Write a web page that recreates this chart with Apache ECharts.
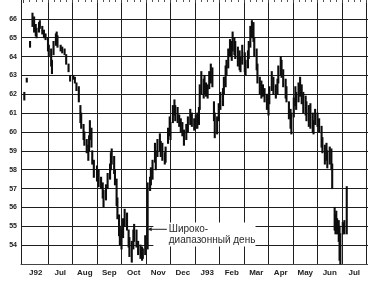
<!DOCTYPE html>
<html><head><meta charset="utf-8">
<script src="https://cdn.jsdelivr.net/npm/echarts/dist/echarts.min.js"></script>
<style>html,body{margin:0;padding:0;background:#fff}#c{width:368px;height:283px}</style>
</head><body><div id="c"></div>
<script>
const monthLabels = ['J92','Jul','Aug','Sep','Oct','Nov','Dec','J93','Feb','Mar','Apr','May','Jun','Jul'];
const priceTicks = [54,55,56,57,58,59,60,61,62,63,64,65,66];
const days = [
'1992-06-02','1992-06-05','1992-06-09','1992-06-12','1992-06-14','1992-06-16','1992-06-17','1992-06-20','1992-06-21','1992-06-24','1992-06-26','1992-06-28',
'1992-07-01','1992-07-02','1992-07-05','1992-07-06','1992-07-08','1992-07-11','1992-07-12','1992-07-13','1992-07-17','1992-07-19','1992-07-22','1992-07-24','1992-07-27','1992-07-29',
'1992-08-02','1992-08-04','1992-08-06','1992-08-09','1992-08-11','1992-08-12','1992-08-15','1992-08-16','1992-08-19','1992-08-21','1992-08-22','1992-08-23','1992-08-25','1992-08-26','1992-08-28',
'1992-09-01','1992-09-03','1992-09-06','1992-09-08','1992-09-09','1992-09-12','1992-09-14','1992-09-17','1992-09-18','1992-09-19','1992-09-22','1992-09-23','1992-09-25','1992-09-26','1992-09-28','1992-09-29',
'1992-10-01','1992-10-03','1992-10-05','1992-10-08','1992-10-10','1992-10-11','1992-10-14','1992-10-16','1992-10-17','1992-10-20','1992-10-22','1992-10-25','1992-10-27','1992-10-28','1992-10-31',
'1992-11-03','1992-11-06','1992-11-07','1992-11-09','1992-11-12','1992-11-13','1992-11-15','1992-11-18','1992-11-19','1992-11-21','1992-11-24','1992-11-25','1992-11-28','1992-11-30',
'1992-12-01','1992-12-04','1992-12-06','1992-12-07','1992-12-10','1992-12-12','1992-12-14','1992-12-16','1992-12-18','1992-12-21','1992-12-23','1992-12-26','1992-12-28','1992-12-31',
'1993-01-02','1993-01-04','1993-01-06','1993-01-07','1993-01-09','1993-01-12','1993-01-13','1993-01-15','1993-01-17','1993-01-19','1993-01-21','1993-01-23','1993-01-25','1993-01-26','1993-01-29','1993-01-31',
'1993-02-02','1993-02-05','1993-02-06','1993-02-08','1993-02-09','1993-02-11','1993-02-13','1993-02-15','1993-02-16','1993-02-18','1993-02-19','1993-02-22','1993-02-24','1993-02-25','1993-02-27',
'1993-03-02','1993-03-03','1993-03-06','1993-03-07','1993-03-09','1993-03-11','1993-03-13','1993-03-14','1993-03-17','1993-03-18','1993-03-21','1993-03-23','1993-03-25','1993-03-27','1993-03-30',
'1993-04-01','1993-04-02','1993-04-05','1993-04-07','1993-04-10','1993-04-12','1993-04-13','1993-04-16','1993-04-17','1993-04-19','1993-04-22','1993-04-23','1993-04-26','1993-04-28','1993-04-29',
'1993-05-02','1993-05-04','1993-05-05','1993-05-08','1993-05-10','1993-05-12','1993-05-14','1993-05-17','1993-05-18','1993-05-21','1993-05-23','1993-05-26','1993-05-27','1993-05-29',
'1993-06-01','1993-06-03','1993-06-06','1993-06-07','1993-06-10','1993-06-12','1993-06-13','1993-06-16','1993-06-18','1993-06-19','1993-06-22','1993-06-23','1993-06-24','1993-06-25','1993-06-27','1993-06-28','1993-06-29',
'1993-07-02','1993-07-03','1993-07-04','1993-07-07'
];
const highs = [
62.1,62.85,64.8,66.3,66.1,65.7,65.5,65.8,65.9,65.6,65.4,65.2,
65.0,64.6,64.4,63.8,64.8,65.2,65.3,65.1,64.6,64.5,64.4,64.1,63.6,63.0,
63.0,62.9,62.6,62.4,61.4,61.0,60.4,60.0,59.6,59.3,59.8,60.6,60.2,59.0,58.5,
58.2,58.0,57.6,57.3,56.9,57.2,57.8,58.3,58.9,59.1,58.7,58.0,57.5,56.5,55.6,55.0,
54.8,55.4,55.9,55.7,54.8,54.4,54.2,54.8,55.1,54.8,54.2,54.0,53.9,53.8,54.5,
57.3,57.6,58.1,58.5,59.4,59.0,59.6,59.9,59.5,59.4,58.9,59.2,60.2,60.8,
60.5,61.4,61.7,61.4,61.3,60.9,60.7,60.5,60.1,60.4,60.8,61.2,61.0,60.7,
60.9,61.0,61.3,62.5,63.2,62.8,63.0,62.6,62.5,63.2,63.6,63.4,61.6,61.0,60.8,61.5,
62.1,62.3,62.9,63.5,63.8,64.4,64.9,64.8,65.3,65.0,64.8,64.5,64.3,64.0,64.6,
64.2,63.8,64.3,64.8,65.6,65.9,65.8,65.0,64.4,63.6,62.9,62.7,62.5,62.3,62.0,
61.8,62.4,63.2,62.9,62.5,62.8,63.5,64.0,63.8,63.3,62.8,62.4,61.6,61.2,61.0,
61.8,62.4,62.1,62.6,62.9,62.5,62.1,61.9,61.6,61.4,61.5,61.0,60.6,61.2,
61.0,60.7,60.3,59.7,59.3,59.4,59.0,59.2,59.1,58.3,56.0,55.6,55.8,55.4,55.3,55.0,54.6,
55.2,55.1,55.3,57.1
];
const lows = [
61.7,62.65,64.5,65.6,65.3,65.1,65.0,65.3,65.5,65.2,65.0,64.9,
64.3,64.0,63.5,63.1,64.1,64.6,64.7,64.5,64.3,64.2,64.1,63.6,63.2,62.7,
62.8,62.6,62.2,61.6,60.5,60.2,59.6,59.3,58.9,58.5,59.0,59.6,59.2,58.3,57.6,
57.4,57.1,57.0,56.5,56.0,56.4,57.0,57.5,58.0,58.3,57.8,57.2,56.1,55.4,54.5,54.0,
53.8,54.4,55.0,54.8,53.9,53.4,53.1,53.8,54.2,53.9,53.5,53.3,53.2,53.3,53.5,
53.8,56.9,57.2,57.5,58.4,58.0,58.7,59.0,58.7,58.5,58.3,58.4,59.4,59.8,
59.6,60.5,60.9,60.6,60.5,60.3,60.0,59.8,59.3,59.6,60.0,60.4,60.3,60.1,
60.2,60.2,60.4,61.2,62.0,61.8,62.0,61.9,61.8,62.3,62.6,62.4,60.6,59.7,59.9,60.6,
61.2,61.4,62.0,62.4,63.0,63.4,64.0,63.8,64.3,64.1,63.9,63.5,63.3,63.2,63.6,
63.2,63.0,63.4,63.9,64.5,65.0,64.8,64.0,63.3,62.6,62.0,61.8,61.9,61.6,61.2,
60.9,61.5,62.2,62.0,61.8,62.0,62.6,63.0,62.9,62.4,61.8,61.6,60.7,60.2,59.9,
60.8,61.4,61.2,61.6,61.9,61.5,61.0,60.9,60.6,60.3,60.2,60.0,59.9,60.4,
60.3,60.0,59.2,58.9,58.3,58.5,58.1,58.3,58.0,57.0,54.8,54.6,54.8,54.6,54.2,53.2,53.0,
54.6,54.7,54.6,54.6
];
const noteLines = ['Широко-', 'диапазонный день'];

function monthPos(s) {
  const [y, m, d] = s.split('-').map(Number);
  const dim = new Date(y, m, 0).getDate();
  return (y - 1992) * 12 + (m - 6) + (d - 1) / dim;
}
const bars = days.map((d, i) => [monthPos(d), highs[i], lows[i]]);

const chart = echarts.init(document.getElementById('c'), null, {renderer: 'canvas'});
const lineCol = '#1e1e1e';
chart.setOption({
  animation: false,
  backgroundColor: '#fff',
  grid: [
    {left: 21, right: 0, top: 0, bottom: 19},
    {left: 23.5, right: 1.5, top: 0, bottom: 19}
  ],
  xAxis: [
    {gridIndex: 0, type: 'value', min: 0, max: 1, axisLabel: {show: false}, axisTick: {show: false}, splitLine: {show: false},
     axisLine: {show: true, onZero: false, lineStyle: {color: '#444', width: 1}}},
    {gridIndex: 1, type: 'category', data: monthLabels, boundaryGap: true, position: 'bottom',
     axisLine: {show: false}, axisTick: {show: false},
     axisLabel: {margin: 5, fontSize: 8, fontWeight: 'bold', color: '#222', fontFamily: 'Liberation Sans'},
     splitLine: {show: true, showMinLine: false, lineStyle: {color: lineCol, width: 1}}},
    {gridIndex: 1, type: 'value', min: 0, max: 14, interval: 1, show: true,
     axisLine: {show: false}, axisLabel: {show: false}, splitLine: {show: false},
     axisTick: {show: true, inside: true, length: 3, lineStyle: {color: '#444'}},
     minorTick: {show: true, splitNumber: 4, length: 2, lineStyle: {color: '#555'}}}
  ],
  yAxis: [
    {gridIndex: 0, type: 'value', min: 53, max: 67, interval: 1,
     axisLine: {show: true, lineStyle: {color: lineCol, width: 1}}, axisTick: {show: false},
     axisLabel: {margin: 4, fontSize: 7, fontWeight: 'bold', color: '#222', fontFamily: 'Liberation Sans',
       formatter: v => priceTicks.includes(v) ? String(v) : ''},
     splitLine: {show: true, showMaxLine: false, lineStyle: {color: lineCol, width: 1}}},
    {gridIndex: 1, type: 'value', min: 53, max: 67, show: false, splitLine: {show: false}}
  ],
  series: [{
    type: 'custom',
    xAxisIndex: 2, yAxisIndex: 1,
    data: bars,
    z: 5,
    renderItem: (params, api) => {
      const x = api.value(0);
      const p1 = api.coord([x, api.value(1)]);
      const p2 = api.coord([x, api.value(2)]);
      return {type: 'line', shape: {x1: p1[0], y1: p1[1] - 0.5, x2: p2[0], y2: p2[1] + 0.5},
        style: {stroke: '#0d0d0d', lineWidth: 2.1}};
    }
  }]
});

// annotation anchored in data space
const toPx = v => chart.convertToPixel({xAxisIndex: 2, yAxisIndex: 1}, v);
const arrowFrom = toPx([5.85, 54.84]);
const arrowTo = toPx([5.07, 54.84]);
const boxA = toPx([5.3, 55.2]);
const boxB = toPx([9.47, 53.93]);
const t1 = toPx([5.93, 54.84]);
const t2 = toPx([5.93, 54.26]);
chart.setOption({
  graphic: [
    {type: 'rect', z: 1, shape: {x: boxA[0], y: boxA[1], width: boxB[0] - boxA[0], height: boxB[1] - boxA[1]}, style: {fill: '#fff'}},
    {type: 'line', z: 6, shape: {x1: arrowFrom[0], y1: arrowFrom[1], x2: arrowTo[0] + 3, y2: arrowTo[1]}, style: {stroke: '#222', lineWidth: 1}},
    {type: 'polygon', z: 6, shape: {points: [[arrowTo[0], arrowTo[1]], [arrowTo[0] + 4, arrowTo[1] - 2], [arrowTo[0] + 4, arrowTo[1] + 2]]}, style: {fill: '#222'}},
    {type: 'text', z: 6, x: t1[0], y: t1[1], style: {text: noteLines[0], fill: '#2a2a2a', font: '10px "Liberation Sans"', textAlign: 'left', textVerticalAlign: 'middle'}},
    {type: 'text', z: 6, x: t2[0], y: t2[1], style: {text: noteLines[1], fill: '#2a2a2a', font: '10px "Liberation Sans"', textAlign: 'left', textVerticalAlign: 'middle'}}
  ]
});
</script></body></html>
